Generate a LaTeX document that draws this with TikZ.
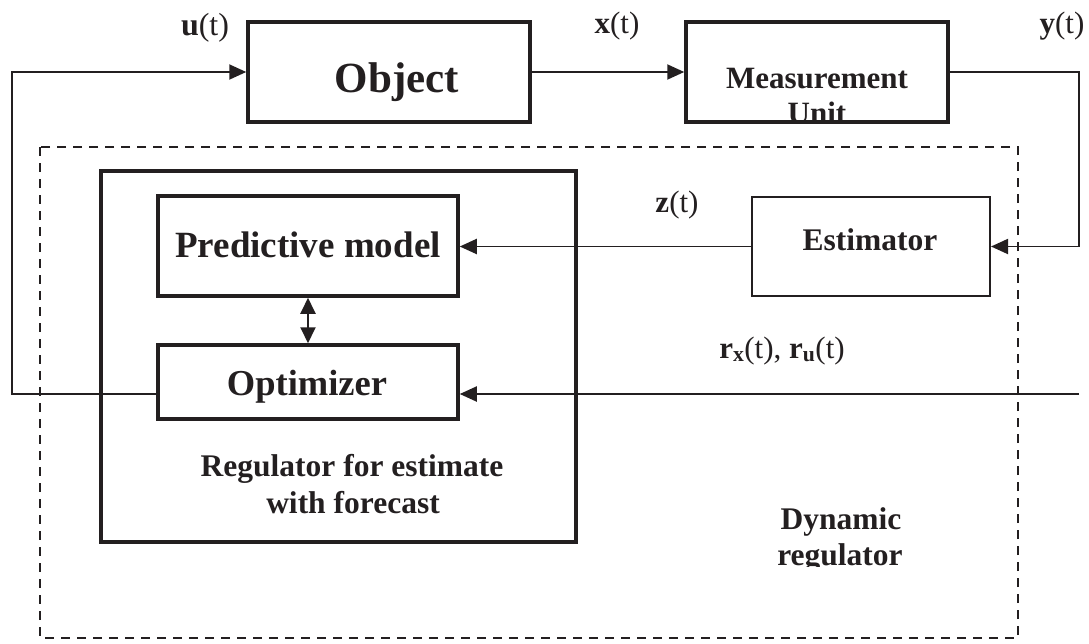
\documentclass[tikz,border=0pt]{standalone}
\usepackage{fontspec}
\setmainfont{Liberation Serif}
\usetikzlibrary{arrows.meta}
\definecolor{ink}{HTML}{231F20}
\newcommand{\fs}[1]{\fontsize{#1}{#1}\selectfont}
\begin{document}
\begin{tikzpicture}[x=1pt,y=-1pt,
  thickbox/.style={draw=ink, line width=3.5pt, inner sep=0pt},
  thinbox/.style={draw=ink, line width=2pt, inner sep=0pt},
  txt/.style={anchor=base, inner sep=0pt, text=ink},
  conn/.style={draw=ink, line width=1.9pt},
  arr/.style={conn, -{Triangle[length=17pt,width=15pt]}},
  dbl/.style={conn, {Triangle[length=16pt,width=15pt]}-{Triangle[length=16pt,width=15pt]}},
  dash box/.style={draw=ink, line width=2.4pt, dash pattern=on 9pt off 7pt}
]
\useasboundingbox (0,0) rectangle (1089,643);

% dashed dynamic regulator frame
\draw[dash box] (40,147) rectangle (1018,638);

% boxes
\node[thickbox, minimum width=282pt, minimum height=100pt] (obj) at (389,72) {};
\node[thickbox, minimum width=262pt, minimum height=100pt] (meas) at (817,72) {};
\node[thickbox, minimum width=475pt, minimum height=371pt] (reg) at (338.5,356.5) {};
\node[thickbox, minimum width=300pt, minimum height=100pt] (pred) at (308,246) {};
\node[thickbox, minimum width=300pt, minimum height=74pt] (opt) at (308,382) {};
\node[thinbox, minimum width=238pt, minimum height=99pt] (est) at (871,246.5) {};

% box texts
\node[txt, font=\bfseries\fs{43}] (objtext) at (397,92) {Object};
\node[txt, font=\bfseries\fs{31}] (meastext) at (817,88) {Measurement};
\begin{scope}
  \clip (690,26) rectangle (944,120);
  \node[txt, font=\bfseries\fs{31}] (unittext) at (817,123) {Unit};
\end{scope}
\node[txt, font=\bfseries\fs{37}] (predtext) at (308,257) {Predictive model};
\node[txt, font=\bfseries\fs{36.5}] (opttext) at (307,395) {Optimizer};
\node[txt, font=\bfseries\fs{31.5}] (esttext) at (870,250) {Estimator};
\node[txt, font=\bfseries\fs{31.5}] (regtext1) at (352,476) {Regulator for estimate};
\node[txt, font=\bfseries\fs{31.5}] (regtext2) at (353,513) {with forecast};
\node[txt, font=\bfseries\fs{31.5}] (dyntext1) at (841,529) {Dynamic};
\begin{scope}
  \clip (700,480) rectangle (1000,566.5);
  \node[txt, font=\bfseries\fs{31.5}] (dyntext2) at (840,565) {regulator};
\end{scope}

% signal labels
\node[txt, font=\fs{32}] (ulab) at (205,35) {\textbf{u}(t)};
\node[txt, font=\fs{31}] (xlab) at (617,33) {\textbf{x}(t)};
\node[txt, font=\fs{31}] (ylab) at (1062,33) {\textbf{y}(t)};
\node[txt, font=\fs{31}] (zlab) at (677,212) {\textbf{z}(t)};
\node[txt, font=\fs{31}] (rlab) at (782,358) {\textbf{r}\textsubscript{\textbf{x}}(t), \textbf{r}\textsubscript{\textbf{u}}(t)};

% connectors
\coordinate (ytop) at (1079,72);
\coordinate (ybot) at (1079,246.5);
\coordinate (fb) at (12,394);
\coordinate (rin) at (1079,394);

\draw[arr] (obj.east) -- (meas.west);
\draw[arr] (meas.east) -- (ytop) -- (ybot) -- (est.east);
\draw[arr] (est.west) -- (est.west -| pred.east);
\draw[dbl] (pred.south) -- (opt.north);
\draw[arr] (opt.west |- fb) -- (fb) -- (fb |- obj.west) -- (obj.west);
\draw[arr] (rin) -- (rin -| opt.east);
\end{tikzpicture}
\end{document}
